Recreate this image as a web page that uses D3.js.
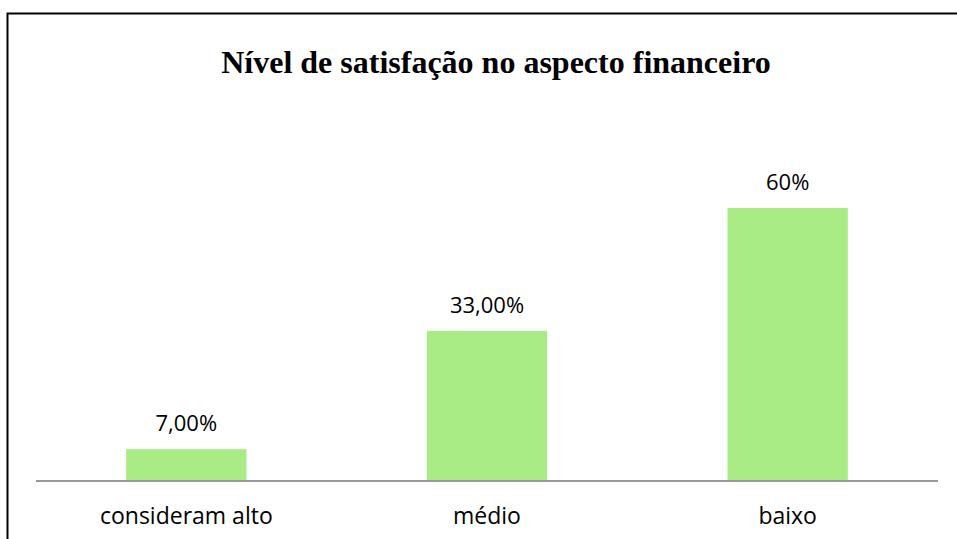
<!DOCTYPE html>
<html lang="pt">
<head>
    <meta charset="UTF-8">
    <title>Nível de satisfação no aspecto financeiro</title>
    <style>
        body { margin: 0; background: #fff; }
        .title {
          font-family: "Liberation Serif", "Times New Roman", serif;
          font-weight: bold;
          font-size: 32px;
          fill: #000;
          text-anchor: middle;
        }
        .cat, .val {
          font-family: "Open Sans", sans-serif;
          fill: #000;
          text-anchor: middle;
        }
        .cat { font-size: 23px; }
        .val { font-size: 22px; }
        .bar { fill: #a9eb85; }
        .baseline { stroke: #999; stroke-width: 2px; }
    </style>
</head>
<body>
    <svg width="957" height="539"></svg>

    <script src="https://d3js.org/d3.v7.min.js"></script>
    <script>
        var categories = ["consideram alto", "médio", "baixo"];
        var values = [7, 33, 60];
        var valueLabels = ["7,00%", "33,00%", "60%"];

        var svg = d3.select("svg");

        // chart frame (right and bottom edges fall outside the picture)
        svg.append("rect")
            .attr("x", 7.5).attr("y", 13.5)
            .attr("width", 1000).attr("height", 600)
            .attr("fill", "none")
            .attr("stroke", "#000")
            .attr("stroke-width", 2);

        svg.append("text")
            .attr("class", "title")
            .attr("x", 496).attr("y", 73)
            .text("Nível de satisfação no aspecto financeiro");

        var x = d3.scaleBand()
            .domain(categories)
            .range([36, 938])
            .paddingInner(0.6)
            .paddingOuter(0.3);

        var y = d3.scaleLinear()
            .domain([0, 70])
            .range([481, 481 - 70 * 4.55]);

        svg.append("g")
            .selectAll("rect")
            .data(values)
            .enter().append("rect")
            .attr("class", "bar")
            .attr("x", function(d, i) { return x(categories[i]); })
            .attr("y", function(d) { return y(d); })
            .attr("width", x.bandwidth())
            .attr("height", function(d) { return y(0) - y(d); });

        svg.append("line")
            .attr("class", "baseline")
            .attr("x1", 36).attr("x2", 938)
            .attr("y1", y(0)).attr("y2", y(0));

        svg.append("g")
            .selectAll("text")
            .data(values)
            .enter().append("text")
            .attr("class", "val")
            .attr("x", function(d, i) { return x(categories[i]) + x.bandwidth() / 2; })
            .attr("y", function(d) { return y(d) - 18; })
            .text(function(d, i) { return valueLabels[i]; });

        svg.append("g")
            .selectAll("text")
            .data(categories)
            .enter().append("text")
            .attr("class", "cat")
            .attr("x", function(d) { return x(d) + x.bandwidth() / 2; })
            .attr("y", 524)
            .text(function(d) { return d; });
    </script>
</body>
</html>
